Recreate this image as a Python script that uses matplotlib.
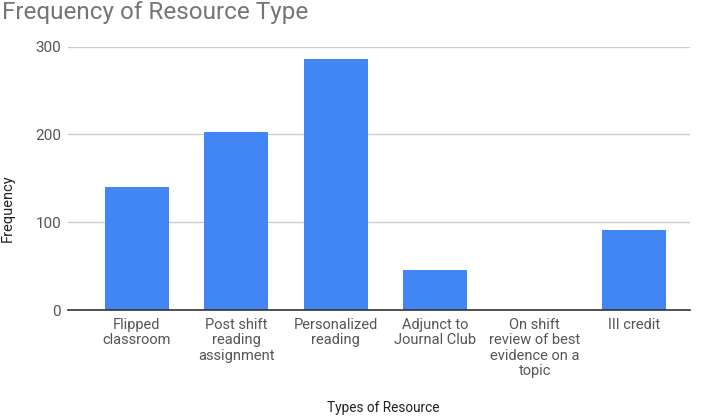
import matplotlib
matplotlib.use("Agg")
import matplotlib.pyplot as plt

categories = ["Flipped\nclassroom", "Post shift\nreading\nassignment", "Personalized\nreading",
              "Adjunct to\nJournal Club", "On shift\nreview of best\nevidence on a\ntopic", "III credit"]
frequency = [140, 203, 286, 45, 0, 91]
yticks = [0, 100, 200, 300]

plt.rcParams['font.family'] = ['Roboto', 'DejaVu Sans']

fig = plt.figure(figsize=(7.01, 4.17), dpi=100)
ax = fig.add_axes([68/701, (417-310)/417, (690-68)/701, (310-46.5)/417])

x = list(range(len(categories)))
ax.bar(x, frequency, width=0.645, color="#4285F4", zorder=3)

ax.set_xlim((68-136.7)/99.5, (690-136.7)/99.5)
ax.set_ylim(0, 300)
ax.set_yticks(yticks)
ax.set_yticklabels([str(v) for v in yticks])
ax.set_xticks(x)
ax.set_xticklabels(categories, linespacing=1.1)
ax.tick_params(axis='x', length=0, pad=6, labelsize=10.5, labelcolor="#555555")
ax.tick_params(axis='y', length=0, pad=5, labelsize=11, labelcolor="#555555")

ax.grid(axis='y', color="#cccccc", linewidth=1, zorder=0)
for s in ['top', 'right', 'left']:
    ax.spines[s].set_visible(False)
ax.spines['bottom'].set_color("#333333")
ax.spines['bottom'].set_linewidth(1.2)
ax.spines['bottom'].set_zorder(4)

fig.text(383/701, 1-408/417, "Types of Resource", ha='center', va='center', fontsize=9.8, color="#222222")
fig.text(8/701, 1-208/417, "Frequency", ha='center', va='center', rotation=90, fontsize=10.5, color="#222222")
fig.text(2/701, 1-12/417, "Frequency of Resource Type", ha='left', va='center', fontsize=17.5, color="#757575")

fig.savefig("out.png", dpi=100)
